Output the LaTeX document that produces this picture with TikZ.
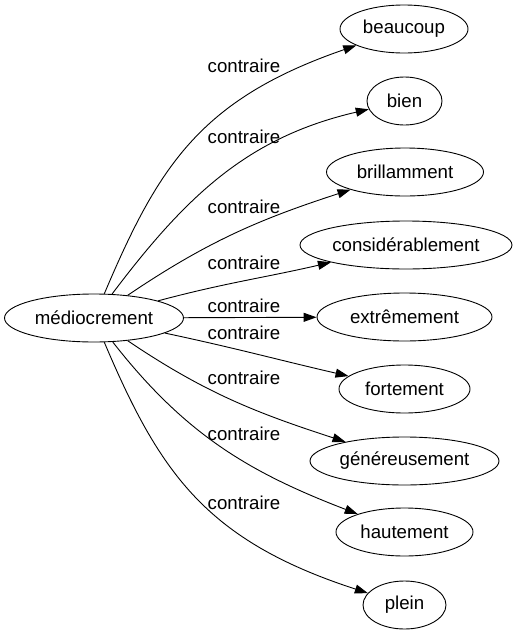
\documentclass[tikz,border=0pt]{standalone}
\usepackage{fontspec}
\setmainfont{Liberation Sans}
\usetikzlibrary{shapes.geometric, arrows.meta}
\tikzset{
  word/.style={ellipse, draw=black, line width=0.9pt, inner sep=0pt,
    minimum height=48pt, font=\fontsize{18.67pt}{22pt}\selectfont},
  rel/.style={inner sep=0pt, font=\fontsize{18.67pt}{22pt}\selectfont},
  arrow/.style={-{Triangle[length=13pt, width=9pt]}, line width=0.9pt}
}
\begin{document}
\begin{tikzpicture}[x=1pt, y=1pt]
  \useasboundingbox (0,0) rectangle (516,-635);

  % Source word
  \node[word, minimum width=179pt] (medio) at (94,-318) {médiocrement};

  % Target words
  \node[word, minimum width=128pt] (beaucoup) at (404,-29) {beaucoup};
  \node[word, minimum width=75pt] (bien) at (404.5,-101) {bien};
  \node[word, minimum width=157pt] (brill) at (405,-172) {brillamment};
  \node[word, minimum width=212pt] (consid) at (406,-245) {considérablement};
  \node[word, minimum width=175pt] (extreme) at (404.5,-317) {extrêmement};
  \node[word, minimum width=131pt] (forte) at (404.5,-389) {fortement};
  \node[word, minimum width=189pt] (genereux) at (404.5,-461) {généreusement};
  \node[word, minimum width=137pt] (haute) at (404.5,-532) {hautement};
  \node[word, minimum width=83pt] (plein) at (404.5,-605) {plein};

  % Edge labels
  \node[rel] (l1) at (244,-66) {contraire};
  \node[rel] (l2) at (244,-137) {contraire};
  \node[rel] (l3) at (244,-207) {contraire};
  \node[rel] (l4) at (244,-263) {contraire};
  \node[rel] (l5) at (244,-306) {contraire};
  \node[rel] (l6) at (244,-333) {contraire};
  \node[rel] (l7) at (244,-378) {contraire};
  \node[rel] (l8) at (244,-434) {contraire};
  \node[rel] (l9) at (244,-503) {contraire};

  % Edges
  \draw[arrow] (medio) to[out=67, in=199, in looseness=1.2] (beaucoup);
  \draw[arrow] (medio) to[out=53, in=193] (bien);
  \draw[arrow] (medio) to[out=34, in=198] (brill);
  \draw[arrow] (medio) to[out=15, in=193] (consid);
  \draw[arrow] (medio) -- (extreme);
  \draw[arrow] (medio) to[out=-12, in=167] (forte);
  \draw[arrow] (medio) to[out=-34, in=162] (genereux);
  \draw[arrow] (medio) to[out=-52, in=159] (haute);
  \draw[arrow] (medio) to[out=-67, in=162, in looseness=1.2] (plein);
\end{tikzpicture}
\end{document}
